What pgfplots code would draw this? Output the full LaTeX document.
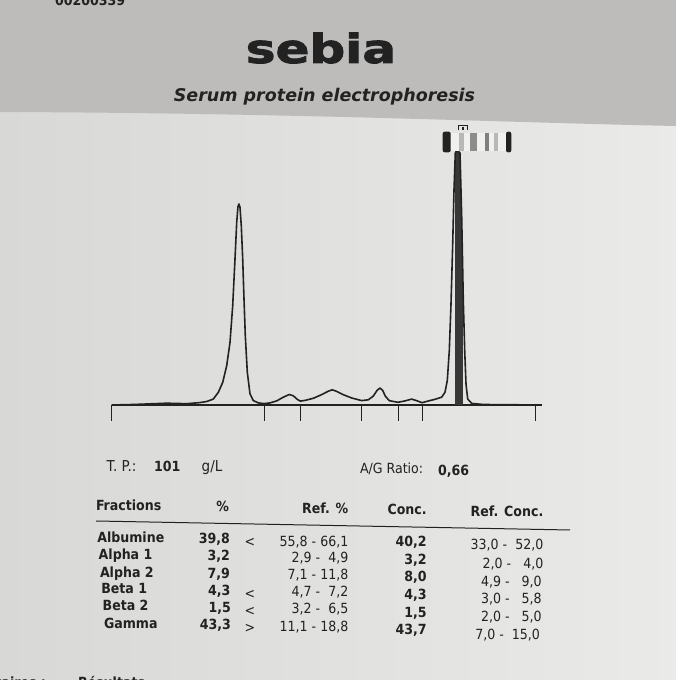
\documentclass[border=0pt]{standalone}
\usepackage{pgfplots}
\pgfplotsset{compat=1.18}
\usepackage{fontspec}
\setmainfont{DejaVu Sans}
\newfontfamily\cond{DejaVu Sans Condensed}
\newfontfamily\logofont{DejaVu Sans Bold}[FakeBold=2]
\definecolor{paper}{RGB}{216,216,214}
\definecolor{paperR}{RGB}{234,234,232}
\definecolor{band}{RGB}{190,188,186}
\definecolor{ink}{RGB}{34,34,34}
\newcommand\fs[1]{\fontsize{#1}{#1}\selectfont}
\begin{document}
\begin{tikzpicture}
\useasboundingbox (0,0) rectangle (676pt,680pt);
\clip (0,0) rectangle (676pt,680pt);
\shade[left color=paper, right color=paperR] (0,0) rectangle (676pt,680pt);
\begin{scope}[shift={(0,680pt)}, x=1pt, y=-1pt, every node/.style={inner sep=0pt, outer sep=0pt, text=ink}]
 \fill[band] (0,0) -- (676,0) -- (676,126) .. controls (520,123) and (300,113) .. (0,112) -- cycle;
 % header
 \node[anchor=base] at (321,63) {\scalebox{1.25}[1]{\logofont\fs{40}sebia}};
 \node[anchor=base] at (324.5,102) {\fs{17.5}\bfseries\itshape Serum protein electrophoresis};
 \node[anchor=base west] at (55,5.5) {\cond\fs{14}\bfseries 00200339};
 % totals
 \node[anchor=base west] at (106.7,471.5) {\cond\fs{15}T. P.:};
 \node[anchor=base west] at (154,471.5) {\cond\fs{14}\bfseries 101};
 \node[anchor=base west] at (201.7,472) {\cond\fs{15}g/L};
 \node[anchor=base west] at (360,474) {\cond\fs{14}A/G Ratio:};
 \node[anchor=base west] at (438,475.7) {\cond\fs{14}\bfseries 0,66};
 % table header
 \node[anchor=base west] at (96,511) {\cond\fs{14}\bfseries Fractions};
 \node[anchor=base east] at (229,511.7) {\cond\fs{14}\bfseries \%};
 \node[anchor=base east] at (348.3,513.3) {\cond\fs{14}\bfseries Ref. \%};
 \node[anchor=base east] at (426.7,515) {\cond\fs{14}\bfseries Conc.};
 \node[anchor=base east] at (543.3,516.7) {\cond\fs{14}\bfseries Ref. Conc.};
 \draw[ink, line width=1pt] (96,521) -- (570,530);
 % names
 \node[anchor=base west] at (97.3,542.7) {\cond\fs{14}\bfseries Albumine};
 \node[anchor=base west] at (98.7,560) {\cond\fs{14}\bfseries Alpha 1};
 \node[anchor=base west] at (100,577.7) {\cond\fs{14}\bfseries Alpha 2};
 \node[anchor=base west] at (101.3,594) {\cond\fs{14}\bfseries Beta 1};
 \node[anchor=base west] at (102.7,611) {\cond\fs{14}\bfseries Beta 2};
 \node[anchor=base west] at (104,628.3) {\cond\fs{14}\bfseries Gamma};
 % percent
 \node[anchor=base east] at (230,543.3) {\cond\fs{14}\bfseries 39,8};
 \node[anchor=base east] at (230,560.7) {\cond\fs{14}\bfseries 3,2};
 \node[anchor=base east] at (230,578.3) {\cond\fs{14}\bfseries 7,9};
 \node[anchor=base east] at (230.5,595.7) {\cond\fs{14}\bfseries 4,3};
 \node[anchor=base east] at (231,613) {\cond\fs{14}\bfseries 1,5};
 \node[anchor=base east] at (231,630) {\cond\fs{14}\bfseries 43,3};
 % flags
 \node[anchor=base] at (250,547) {\cond\fs{14}<};
 \node[anchor=base] at (250,599) {\cond\fs{14}<};
 \node[anchor=base] at (250,616) {\cond\fs{14}<};
 \node[anchor=base] at (250,632.5) {\cond\fs{14}>};
 % ref %
 \node[anchor=base east] at (348.3,546.7) {\cond\fs{14}55,8 - 66,1};
 \node[anchor=base east] at (348.3,562.7) {\cond\fs{14}2,9 -\ \ 4,9};
 \node[anchor=base east] at (348.3,580) {\cond\fs{14}7,1 - 11,8};
 \node[anchor=base east] at (348.3,596.7) {\cond\fs{14}4,7 -\ \ 7,2};
 \node[anchor=base east] at (348.3,614) {\cond\fs{14}3,2 -\ \ 6,5};
 \node[anchor=base east] at (348.3,631.7) {\cond\fs{14}11,1 - 18,8};
 % conc
 \node[anchor=base east] at (426.7,546.7) {\cond\fs{14}\bfseries 40,2};
 \node[anchor=base east] at (426.7,565) {\cond\fs{14}\bfseries 3,2};
 \node[anchor=base east] at (426.7,581.7) {\cond\fs{14}\bfseries 8,0};
 \node[anchor=base east] at (426.7,600) {\cond\fs{14}\bfseries 4,3};
 \node[anchor=base east] at (426.7,617.7) {\cond\fs{14}\bfseries 1,5};
 \node[anchor=base east] at (426.7,635) {\cond\fs{14}\bfseries 43,7};
 % ref conc
 \node[anchor=base east] at (543.3,550) {\cond\fs{14}33,0 -\ \ 52,0};
 \node[anchor=base east] at (543.3,568.3) {\cond\fs{14}2,0 -\ \ \ 4,0};
 \node[anchor=base east] at (541.7,586.7) {\cond\fs{14}4,9 -\ \ \ 9,0};
 \node[anchor=base east] at (541.7,603.3) {\cond\fs{14}3,0 -\ \ \ 5,8};
 \node[anchor=base east] at (541.7,621.7) {\cond\fs{14}2,0 -\ \ \ 5,0};
 \node[anchor=base east] at (540,640) {\cond\fs{14}7,0 -\ \ 15,0};
 % bottom cut text
 \node[anchor=base east] at (46,687) {\cond\fs{14}\bfseries Commentaires :};
 \node[anchor=base west] at (78,687) {\cond\fs{14}\bfseries Résultats};
\end{scope}
\begin{axis}[at={(111.7pt,275pt)}, anchor=south west, scale only axis,
  width=430pt, height=255pt, xmin=111.7, xmax=541.7, ymin=0, ymax=255,
  clip=false, axis x line*=bottom, hide y axis,
  x axis line style={-, line width=1.2pt, ink},
  xtick={111.7,264,300.3,361.7,398,422,535}, xticklabels={},
  tick align=outside, major tick length=16pt,
  xtick style={ink, line width=1pt}]
\addplot[fill=black!78, draw=none] coordinates {
 (455,0) (455,240) (455.3,252) (457,255) (460,252) (461.7,188) (462.8,130) (462.8,0)} \closedcycle;
\addplot[ink, line width=1.6pt, line join=round] coordinates {
 (111.7,0) (133.3,0.5) (166.7,1.8) (186.7,1.3) (200,2.4) (206.7,3.5) (213.3,5.9)
 (218.3,12.6) (222.7,22.6) (226.7,39.3) (230,62.6) (232.7,99.3) (235,146)
 (236.7,182.6) (238,198.6) (239,201) (240,197.6) (241.3,179) (242.7,146)
 (244,106) (245.3,69.4) (247.3,32.8) (250,11.1) (253.3,4.4) (258.3,2.1)
 (264,1.4) (270,2.1) (276.7,4.1) (283.3,7.8) (289.3,10.5) (293.3,9.2)
 (297.3,5.6) (300.3,3.9) (305,4.6) (313.3,6.7) (321.7,10.4) (328.3,13.8)
 (332.3,15.2) (336.7,13.6) (343.3,10.3) (351.7,7.0) (361.7,4.4) (368.3,5.2)
 (373.3,8.9) (377.3,14.9) (380,16.9) (382.7,14.6) (385.3,8.9) (389.3,4.3)
 (398,2.7) (405,4.1) (411.7,5.9) (416.7,4.3) (422,2.3) (428.3,4.0)
 (435,5.7) (441.7,7.8) (445,12.8) (447.3,24.5) (449.3,54.5) (451,101)
 (452.7,161) (454,215) (455.3,252) (457,255) (460,252) (461.7,188)
 (463.3,104.5) (464.7,54.5) (466,21) (467.7,6) (471.7,1.6) (483.3,0.5) (541.7,0)};
\end{axis}
\begin{scope}[shift={(0,680pt)}, x=1pt, y=-1pt]
 \fill[paperR!70!white] (451,133) rectangle (506,151);
 \fill[ink, rounded corners=2pt] (442.7,131.7) rectangle (450.7,152.3);
 \fill[ink, rounded corners=2pt] (506,131.7) rectangle (511.3,152.3);
 \fill[black!28] (459.3,133) rectangle (464,151);
 \fill[black!45] (470,133) rectangle (476.7,151);
 \fill[black!50] (485,133) rectangle (489,151);
 \fill[black!28] (494,133) rectangle (498.3,151);
 \draw[ink, line width=0.6pt] (458.5,130) -- (458.5,125.5) -- (467.5,125.5) -- (467.5,130);
 \fill[ink] (462,127.5) rectangle (464,130);
\end{scope}
\end{tikzpicture}
\end{document}
